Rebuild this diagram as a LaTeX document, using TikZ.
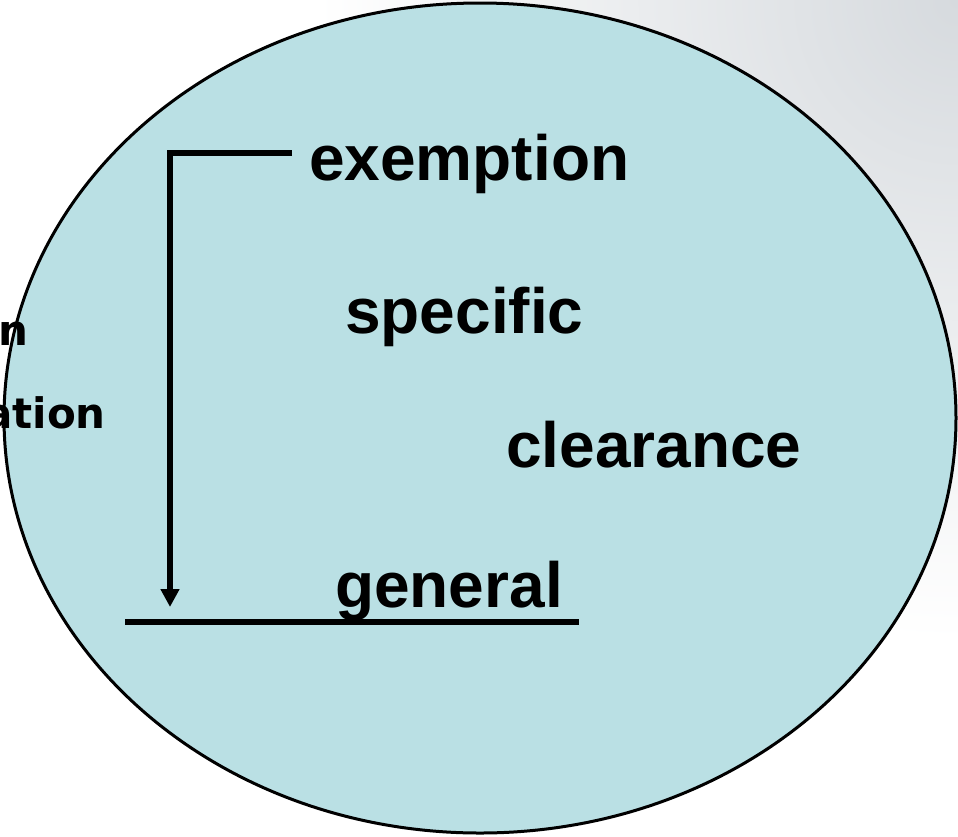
\documentclass[tikz,border=0pt]{standalone}
\usepackage{fontspec}
\setmainfont{Liberation Sans}
\newfontfamily\sidefont{DejaVu Sans}
\usetikzlibrary{arrows.meta,positioning}
\definecolor{discblue}{RGB}{186,224,228}
\definecolor{slidegray}{RGB}{214,218,222}
\tikzset{%
	word/.style     = {anchor=base west, inner sep=0pt, font=\fontsize{64}{70}\selectfont\bfseries},
	sideword/.style = {anchor=base east, inner sep=0pt, font=\fontsize{42}{48}\selectfont\sidefont\bfseries},
	waypoint/.style = {coordinate},
	disc/.style     = {draw, fill=discblue, line width=3pt},
	arrow/.style    = {line width=5.5pt, -{Triangle[width=18pt,length=18pt]}},
	rule/.style     = {line width=6pt},
}

\begin{document}
\begin{tikzpicture}[x=1pt,y=-1pt]
	\useasboundingbox (0,0) rectangle (958,836);
	% shaded corner of the slide
	\begin{scope}
		\clip (0,0) rectangle (958,836);
		\shade[inner color=slidegray, outer color=white] (958,0) circle (640pt);
	\end{scope}
	\draw[disc] (480,418) ellipse [x radius=476pt, y radius=415pt];
	
	\node[word] (ex) at (309,180) {exemption};
	\node[word] (sp) at (345,333) {specific};
	\node[word] (cl) at (506,467) {clearance};
	\node[word] (ge) at (335,607) {general};
	\node[sideword] (s1) at (29,345) {n};
	\node[sideword] (s2) at (106,428) {ation};
	
	\node[waypoint] (wp1) at (292,153) {};
	\node[waypoint] (wp2) at (170,607) {};
	\node[waypoint] (wp3) at (125,622) {};
	\node[waypoint] (wp4) at (579,622) {};
	
	\draw[arrow] (wp1) -| (wp2);
	\draw[rule] (wp3) -- (wp4);
\end{tikzpicture}
\end{document}
